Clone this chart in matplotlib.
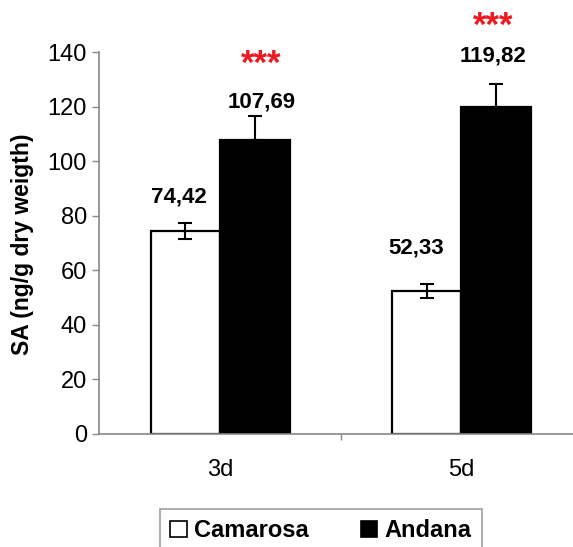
import matplotlib
matplotlib.use("Agg")
import matplotlib.pyplot as plt
import numpy as np
from matplotlib.patches import Patch

categories = ["3d", "5d"]
series_names = ["Camarosa", "Andana"]
camarosa = [74.42, 52.33]
andana = [107.69, 119.82]
camarosa_err = [3.0, 2.6]
andana_err = [9.0, 8.5]
camarosa_labels = ["74,42", "52,33"]
andana_labels = ["107,69", "119,82"]
signif = ["***", "***"]
yticks = [0, 20, 40, 60, 80, 100, 120, 140]

plt.rcParams['font.family'] = ['Liberation Sans', 'DejaVu Sans']

fig = plt.figure(figsize=(5.73, 5.47), dpi=100)
ax = fig.add_axes([0.1735, 0.2071, 0.842, 0.6973])

x = np.arange(len(categories))
w = 0.288
ax.bar(x - w / 2, camarosa, w, color="white", edgecolor="black", linewidth=1.6, zorder=2)
ax.bar(x + w / 2, andana, w, color="black", edgecolor="black", linewidth=1.6, zorder=2)
ax.errorbar(x - w / 2, camarosa, yerr=camarosa_err, fmt="none", ecolor="black",
            elinewidth=1.5, capsize=5, capthick=1.5, zorder=3)
ax.errorbar(x + w / 2, andana, yerr=[[0, 0], andana_err], fmt="none", ecolor="black",
            elinewidth=1.5, capsize=5, capthick=1.5, zorder=3)

cam_dx = [-0.026, -0.041]
cam_dy = [9.4, 13.2]
and_dx = [0.027, -0.011]
and_dy = [5.1, 10.4]
star_dy = [28.0, 29.6]
for i in range(len(categories)):
    ax.text(x[i] - w / 2 + cam_dx[i], camarosa[i] + camarosa_err[i] + cam_dy[i], camarosa_labels[i],
            ha="center", va="center", fontsize=16, fontweight="bold", clip_on=False)
    ax.text(x[i] + w / 2 + and_dx[i], andana[i] + andana_err[i] + and_dy[i],
            andana_labels[i], ha="center", va="center", fontsize=16, fontweight="bold", clip_on=False)
    ax.text(x[i] + w / 2 + and_dx[i], andana[i] + star_dy[i],
            signif[i], ha="center", va="center", fontsize=25, fontweight="bold",
            color="#f01820", clip_on=False)

ax.set_xlim(-0.5, 1.5)
ax.set_ylim(0, 140)
ax.set_yticks(yticks)
ax.set_yticklabels([str(v) for v in yticks], fontsize=17)
ax.set_xticks(x)
ax.set_xticklabels(categories, fontsize=17)
ax.set_xticks([0.5], minor=True)
ax.tick_params(axis="x", which="major", length=0, pad=18)
ax.tick_params(axis="x", which="minor", length=4, color="#888888", width=1)
ax.tick_params(axis="y", length=5, color="#888888", width=1, pad=4)

for s in ["top", "right"]:
    ax.spines[s].set_visible(False)
for s in ["left", "bottom"]:
    ax.spines[s].set_color("#888888")
    ax.spines[s].set_linewidth(1.2)

fig.text(22.7 / 573, 1 - 244 / 547, "SA (ng/g dry weigth)", rotation=90, ha="center", va="center",
         fontsize=16.5, fontweight="bold")

handles = [Patch(facecolor="white", edgecolor="black", linewidth=1.2),
           Patch(facecolor="black", edgecolor="black", linewidth=1.2)]
leg = fig.legend(handles, series_names, loc="upper center", bbox_to_anchor=(0.56, 1 - 508.7 / 547),
                 ncol=2, frameon=True, fancybox=False, edgecolor="#888888",
                 prop={"size": 17, "weight": "bold"}, handlelength=0.7, handleheight=0.7,
                 handletextpad=0.3, columnspacing=2.2, borderpad=0.45, borderaxespad=0)
leg.get_frame().set_linewidth(1.2)

fig.savefig("out.png", dpi=100)
